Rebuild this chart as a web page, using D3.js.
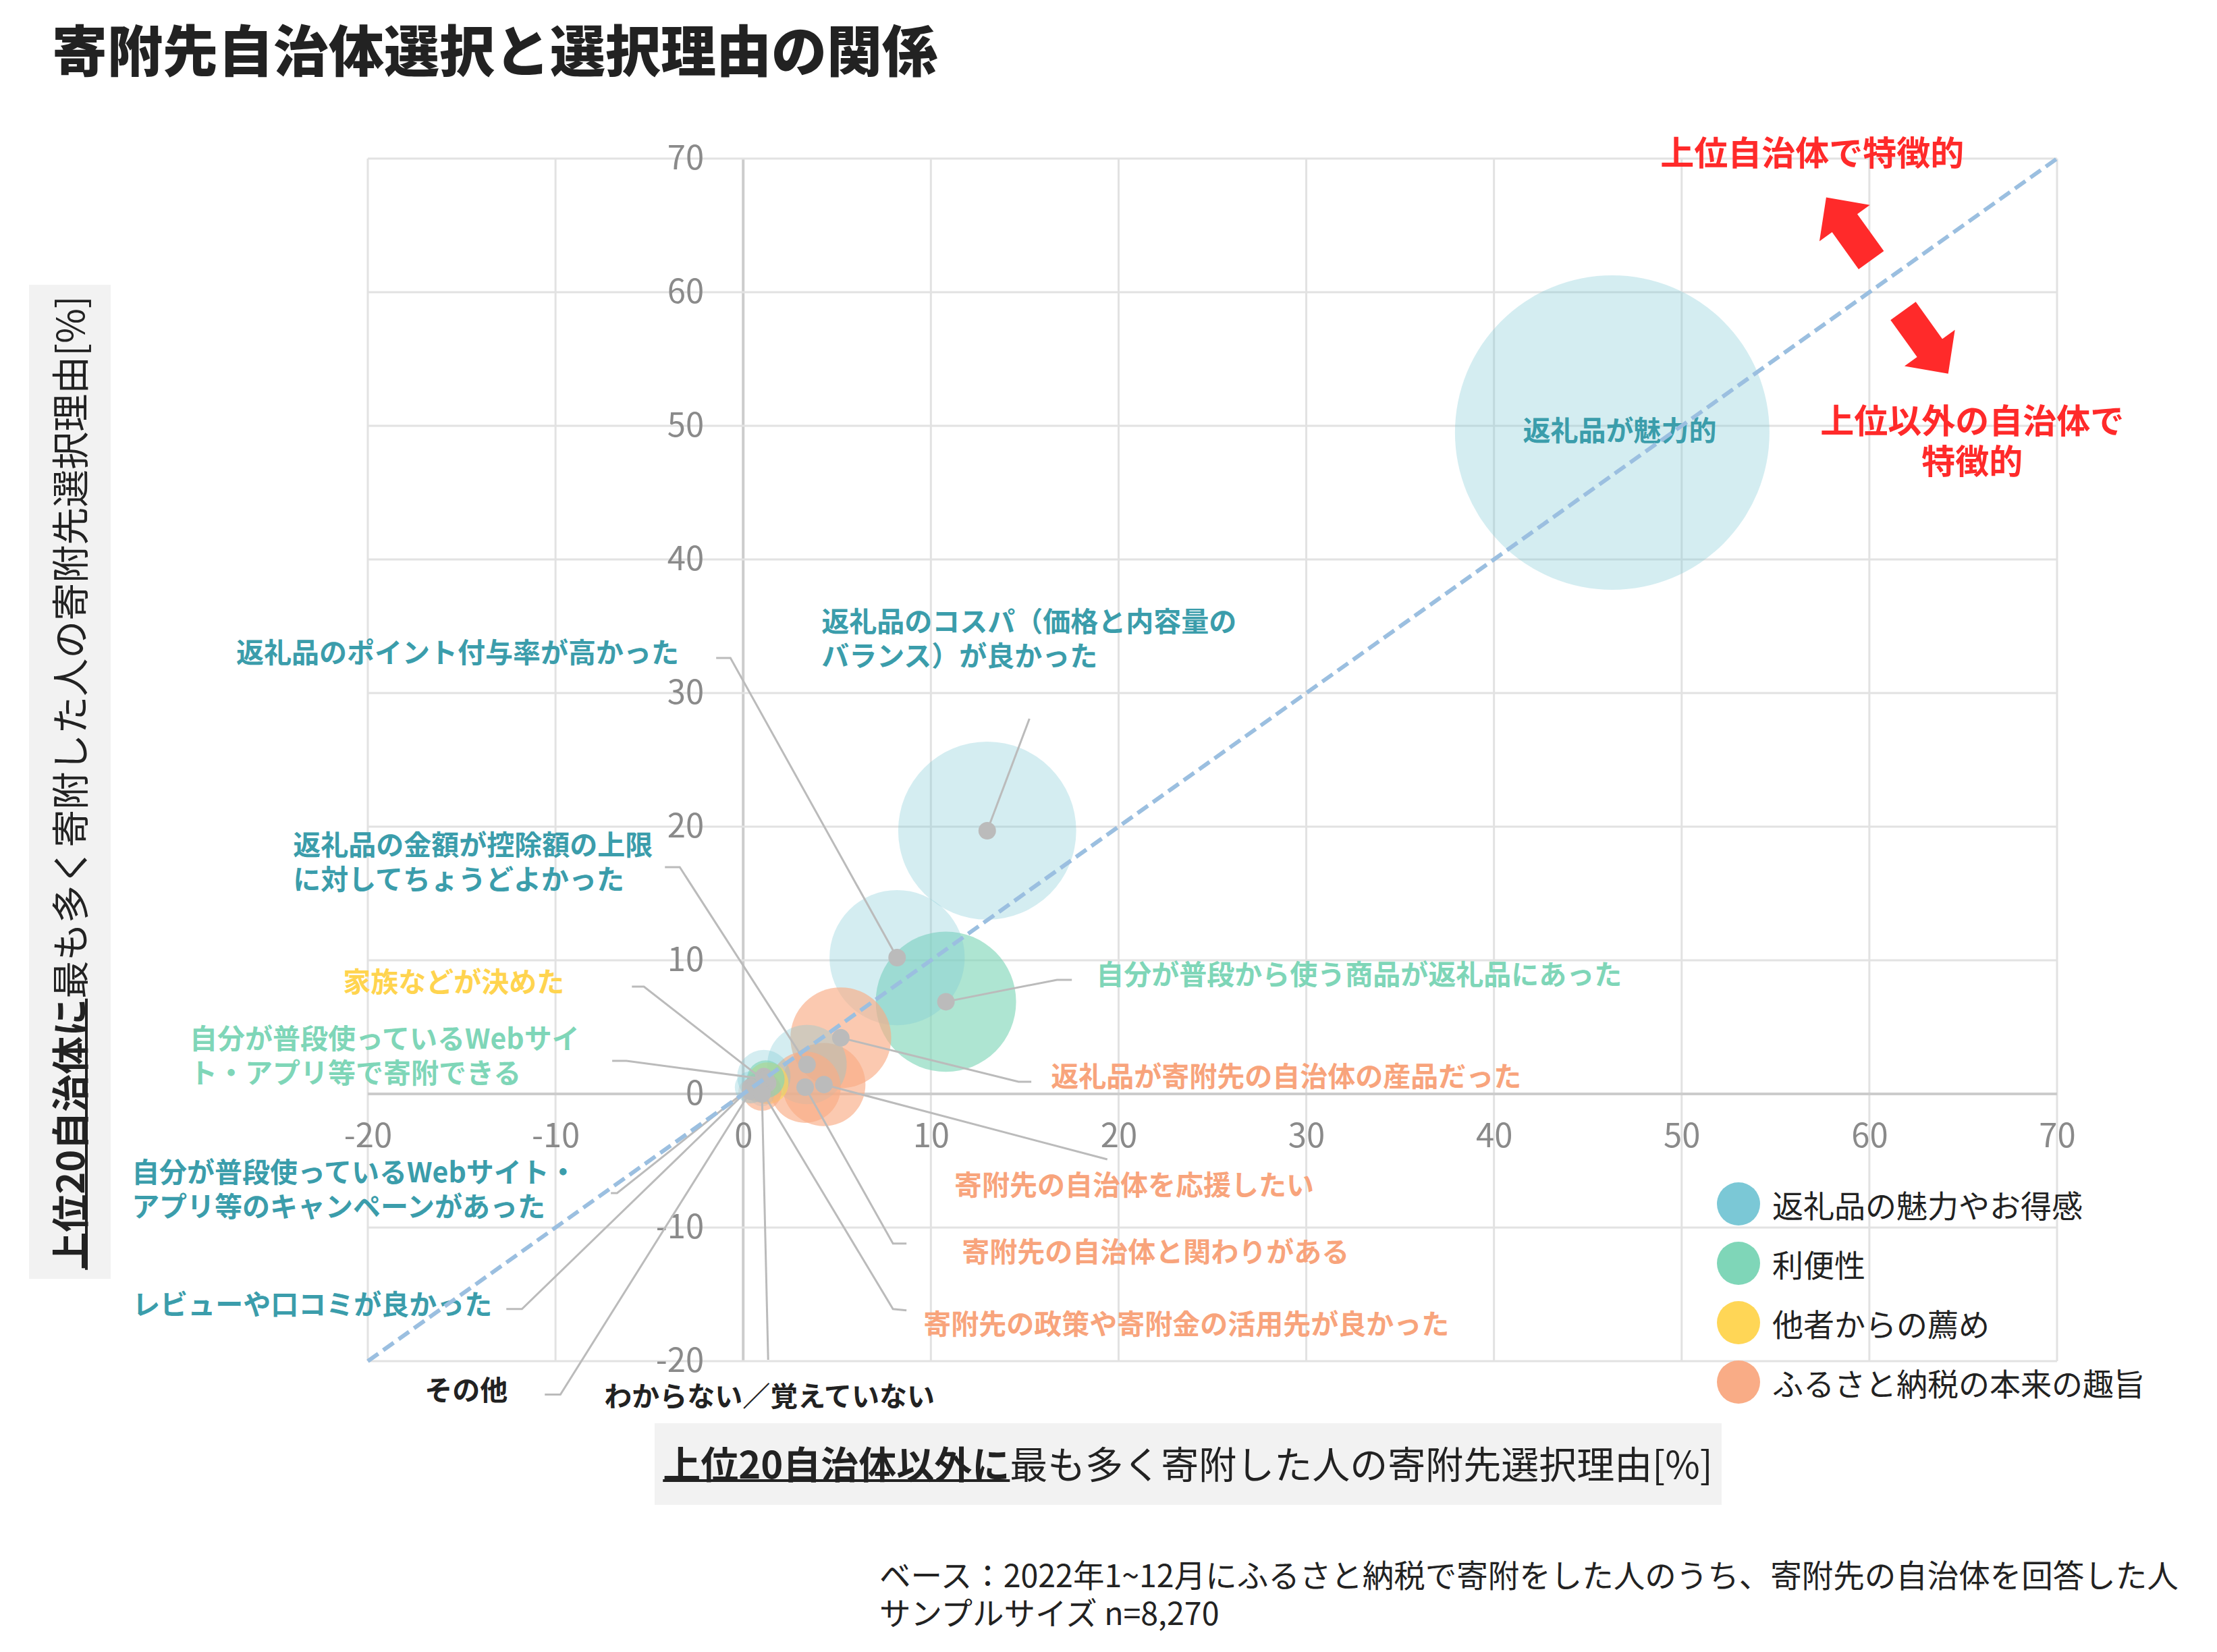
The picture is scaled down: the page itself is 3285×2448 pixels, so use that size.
<!DOCTYPE html>
<html lang="ja">
<head>
<meta charset="utf-8">
<script src="https://cdn.jsdelivr.net/npm/d3@7"></script>
<style>
    body { margin: 0; background: #fff; }
    text { font-family: "Noto Sans CJK JP", "Noto Sans", sans-serif; }
</style>
</head>
<body>
<div id="chart"></div>
<script>
// ---- data ----
const reasons = [
    "返礼品が魅力的",
    "返礼品のコスパ（価格と内容量のバランス）が良かった",
    "返礼品のポイント付与率が高かった",
    "自分が普段から使う商品が返礼品にあった",
    "返礼品が寄附先の自治体の産品だった",
    "返礼品の金額が控除額の上限に対してちょうどよかった",
    "寄附先の自治体を応援したい",
    "寄附先の自治体と関わりがある",
    "自分が普段使っているWebサイト・アプリ等のキャンペーンがあった",
    "家族などが決めた",
    "自分が普段使っているWebサイト・アプリ等で寄附できる",
    "寄附先の政策や寄附金の活用先が良かった",
    "レビューや口コミが良かった",
    "その他",
    "わからない／覚えていない"
];
const reasonGroup = [0, 0, 0, 1, 3, 0, 3, 3, 0, 2, 1, 3, 0, 4, 4];
// x: 上位20自治体以外に最も多く寄附した人 [%]
const otherShare = [46.3, 13.0, 8.2, 10.8, 5.2, 3.4, 4.3, 3.3, 1.1, 1.3, 1.2, 1.0, 0.4, 0.4, 1.0];
// y: 上位20自治体に最も多く寄附した人 [%]
const top20Share = [49.5, 19.7, 10.2, 6.9, 4.2, 2.2, 0.7, 0.5, 1.3, 0.8, 1.1, 0.2, 0.5, 0.2, 0.0];
// bubble size (overall share)
const bubbleSize = [48.7, 15.6, 9.0, 9.7, 5.0, 3.1, 3.4, 2.5, 1.4, 0.86, 0.7, 0.75, 0.5, 0.3, 0.3];

const groupNames = ["返礼品の魅力やお得感", "利便性", "他者からの薦め", "ふるさと納税の本来の趣旨"];
const axisTicks = [-20, -10, 0, 10, 20, 30, 40, 50, 60, 70];

const titleText = "寄附先自治体選択と選択理由の関係";
const xTitle = ["上位20自治体以外に", "最も多く寄附した人の寄附先選択理由[%]"];
const yTitle = ["上位20自治体に", "最も多く寄附した人の寄附先選択理由[%]"];
const noteLines = [
    "ベース：2022年1~12月にふるさと納税で寄附をした人のうち、寄附先の自治体を回答した人",
    "サンプルサイズ n=8,270"
];

// ---- styles ----
const groupColor = ["#7bc8d6", "#7fd6b8", "#ffd656", "#f9ac86", "#bbbbbb"];
const groupOpacity = [0.33, 0.63, 0.65, 0.65, 0.3];
const labelColor = ["#3b9dab", "#7fd6b8", "#ffd44f", "#f8a47c", "#222222"];

// ---- label layout (data units) ----
const labelLayout = [
    { x: 46.7, y: 49.8, anchor: "middle", lines: ["返礼品が魅力的"], leader: null },
    { x: 4.17, y: 35.5, anchor: "start", lines: ["返礼品のコスパ（価格と内容量の", "バランス）が良かった"], leader: [[15.25, 28.08]] },
    { x: -3.42, y: 33.2, anchor: "end", lines: ["返礼品のポイント付与率が高かった"], leader: [[-1.44, 32.63], [-0.68, 32.63]] },
    { x: 18.81, y: 9.09, anchor: "start", lines: ["自分が普段から使う商品が返礼品にあった"], leader: [[17.51, 8.54], [16.72, 8.54]] },
    { x: 16.4, y: 1.46, anchor: "start", lines: ["返礼品が寄附先の自治体の産品だった"], leader: [[15.35, 0.91], [14.67, 0.91]] },
    { x: -23.98, y: 18.79, anchor: "start", lines: ["返礼品の金額が控除額の上限", "に対してちょうどよかった"], leader: [[-4.17, 16.97], [-3.38, 16.97]] },
    { x: 11.25, y: -6.67, anchor: "start", lines: ["寄附先の自治体を応援したい"], leader: [[19.4, -4.9]] },
    { x: 11.65, y: -11.67, anchor: "start", lines: ["寄附先の自治体と関わりがある"], leader: [[8.7, -11.2], [7.98, -11.2]] },
    { x: -32.58, y: -5.71, anchor: "start", lines: ["自分が普段使っているWebサイト・", "アプリ等のキャンペーンがあった"], leader: [[-7.05, -7.42], [-6.72, -7.42]] },
    { x: -9.53, y: 8.54, anchor: "end", lines: ["家族などが決めた"], leader: [[-5.93, 8.03], [-5.29, 8.03]] },
    { x: -29.49, y: 4.29, anchor: "start", lines: ["自分が普段使っているWebサイ", "ト・アプリ等で寄附できる"], leader: [[-6.98, 2.47], [-6.22, 2.47]] },
    { x: 9.6, y: -17.07, anchor: "start", lines: ["寄附先の政策や寄附金の活用先が良かった"], leader: [[8.7, -16.2], [7.98, -16.1]] },
    { x: -32.54, y: -15.6, anchor: "start", lines: ["レビューや口コミが良かった"], leader: [[-12.62, -16.1], [-11.79, -16.1]] },
    { x: -16.97, y: -22.02, anchor: "start", lines: ["その他"], leader: [[-10.57, -22.5], [-9.74, -22.5]] },
    { x: -7.41, y: -22.47, anchor: "start", lines: ["わからない／覚えていない"], leader: [[1.33, -19.9]] }
];

const svg = {
    width: 3285,
    height: 2448,
    plot: { left: 545, right: 3048, top: 235, bottom: 2017 }
};

const data = reasons.map((r, i) => ({
    reason: r,
    group: reasonGroup[i],
    x: otherShare[i],
    y: top20Share[i],
    size: bubbleSize[i],
    layout: labelLayout[i]
}));

const xScale = d3.scaleLinear().domain([-20, 70]).range([svg.plot.left, svg.plot.right]);
const yScale = d3.scaleLinear().domain([-20, 70]).range([svg.plot.bottom, svg.plot.top]);
const rScale = d3.scaleSqrt().domain([0, 48.7]).range([0, 233]);

const chart = d3.select("#chart")
    .append("svg")
    .attr("width", svg.width)
    .attr("height", svg.height);

// title
chart.append("text")
    .attr("x", 77).attr("y", 70)
    .attr("dominant-baseline", "central")
    .attr("font-size", 82).attr("font-weight", 900)
    .attr("fill", "#222")
    .text(titleText);

// grid
const grid = chart.append("g").attr("class", "grid");
grid.selectAll("line.v").data(axisTicks).join("line")
    .attr("x1", d => xScale(d)).attr("x2", d => xScale(d))
    .attr("y1", svg.plot.top).attr("y2", svg.plot.bottom)
    .attr("stroke", d => d === 0 ? "#cccccc" : "#e2e2e2")
    .attr("stroke-width", d => d === 0 ? 4 : 3);
grid.selectAll("line.h").data(axisTicks).join("line")
    .attr("y1", d => yScale(d)).attr("y2", d => yScale(d))
    .attr("x1", svg.plot.left).attr("x2", svg.plot.right)
    .attr("stroke", d => d === 0 ? "#cccccc" : "#e2e2e2")
    .attr("stroke-width", d => d === 0 ? 4 : 3);

// axes (labels only, crossing at the origin)
const xAxis = d3.axisBottom(xScale).tickValues(axisTicks).tickFormat(d => String(d)).tickSize(0).tickPadding(44);
const yAxis = d3.axisLeft(yScale).tickValues(axisTicks).tickFormat(d => String(d)).tickSize(0).tickPadding(58);

chart.append("g").attr("class", "axis x")
    .attr("transform", `translate(0, ${yScale(0)})`)
    .call(xAxis);
chart.append("g").attr("class", "axis y")
    .attr("transform", `translate(${xScale(0)}, 0)`)
    .call(yAxis);
chart.selectAll(".axis .domain").remove();
chart.selectAll(".axis text")
    .attr("font-size", 49)
    .attr("fill", "#8a8a8a")
    .attr("font-family", "'Noto Sans CJK JP', sans-serif");

// bubbles
const sorted = data.slice().sort((a, b) => b.size - a.size);
chart.append("g").attr("class", "bubbles")
    .selectAll("circle")
    .data(sorted)
    .join("circle")
    .attr("cx", d => xScale(d.x))
    .attr("cy", d => yScale(d.y))
    .attr("r", d => rScale(d.size))
    .attr("fill", d => groupColor[d.group])
    .attr("fill-opacity", d => groupOpacity[d.group]);

// leader lines
chart.append("g").attr("class", "leaders")
    .selectAll("polyline")
    .data(data.filter(d => d.layout.leader))
    .join("polyline")
    .attr("points", d => d.layout.leader.concat([[d.x, d.y]])
        .map(p => `${xScale(p[0])},${yScale(p[1])}`).join(" "))
    .attr("fill", "none")
    .attr("stroke", "#bbbbbb")
    .attr("stroke-width", 3);

// centre dots
chart.append("g").attr("class", "dots")
    .selectAll("circle")
    .data(data.filter(d => d.layout.leader))
    .join("circle")
    .attr("cx", d => xScale(d.x))
    .attr("cy", d => yScale(d.y))
    .attr("r", 13)
    .attr("fill", "#bbbbbb");

// labels
const labels = chart.append("g").attr("class", "labels")
    .selectAll("text")
    .data(data)
    .join("text")
    .attr("x", d => xScale(d.layout.x))
    .attr("y", d => yScale(d.layout.y))
    .attr("text-anchor", d => d.layout.anchor)
    .attr("font-size", 41)
    .attr("font-weight", 700)
    .attr("fill", d => labelColor[d.group]);
labels.selectAll("tspan")
    .data(d => d.layout.lines.map((l, i) => ({ l, i, x: xScale(d.layout.x) })))
    .join("tspan")
    .attr("x", d => d.x)
    .attr("dy", d => d.i === 0 ? "0" : "51")
    .attr("dominant-baseline", "central")
    .text(d => d.l);

// diagonal y = x
chart.append("line")
    .attr("x1", xScale(-20)).attr("y1", yScale(-20))
    .attr("x2", xScale(70)).attr("y2", yScale(70))
    .attr("stroke", "#9bbfe0")
    .attr("stroke-width", 6)
    .attr("stroke-dasharray", "19 9");

// red annotations
function arrow(tail, tip) {
    const x0 = xScale(tail[0]), y0 = yScale(tail[1]);
    const x1 = xScale(tip[0]), y1 = yScale(tip[1]);
    const len = Math.hypot(x1 - x0, y1 - y0);
    const ux = (x1 - x0) / len, uy = (y1 - y0) / len;
    const nx = -uy, ny = ux;
    const sw = 23, hw = 46, hl = 47;
    const bx = x1 - ux * hl, by = y1 - uy * hl;
    return [
        [x0 + nx * sw, y0 + ny * sw], [bx + nx * sw, by + ny * sw], [bx + nx * hw, by + ny * hw],
        [x1, y1],
        [bx - nx * hw, by - ny * hw], [bx - nx * sw, by - ny * sw], [x0 - nx * sw, y0 - ny * sw]
    ].map(p => p.join(",")).join(" ");
}
const notes = chart.append("g").attr("class", "notes");
notes.append("polygon").attr("points", arrow([60.1, 62.4], [57.7, 67.1])).attr("fill", "#ff2a2a");
notes.append("polygon").attr("points", arrow([61.8, 58.6], [64.2, 53.9])).attr("fill", "#ff2a2a");
notes.append("text")
    .attr("x", xScale(56.96)).attr("y", yScale(70.6))
    .attr("text-anchor", "middle").attr("dominant-baseline", "central")
    .attr("font-size", 50).attr("font-weight", 700).attr("fill", "#ff2a2a")
    .text("上位自治体で特徴的");
notes.append("text")
    .attr("x", xScale(65.48)).attr("y", yScale(50.56))
    .attr("text-anchor", "middle").attr("dominant-baseline", "central")
    .attr("font-size", 50).attr("font-weight", 700).attr("fill", "#ff2a2a")
    .text("上位以外の自治体で")
    .append("tspan")
    .attr("x", xScale(65.48)).attr("dy", 60)
    .text("特徴的");

// legend
const legend = chart.append("g").attr("class", "legend")
    .attr("transform", "translate(2576, 1784)")
    .selectAll("g")
    .data(groupNames)
    .join("g")
    .attr("transform", (d, i) => `translate(0, ${i * 88})`);
legend.append("circle").attr("r", 32).attr("fill", (d, i) => groupColor[i]);
legend.append("text")
    .attr("x", 50).attr("dominant-baseline", "central")
    .attr("font-size", 46).attr("fill", "#222")
    .text(d => d);

// axis titles with bold, underlined lead
function axisTitle(g, parts) {
    const bold = g.append("text").attr("font-size", 56).attr("font-weight", 700)
        .attr("fill", "#222").attr("dominant-baseline", "central").text(parts[0]);
    const rest = g.append("text").attr("font-size", 56)
        .attr("fill", "#222").attr("dominant-baseline", "central").text(parts[1]);
    const w0 = bold.node().getComputedTextLength();
    const w1 = rest.node().getComputedTextLength();
    const start = -(w0 + w1) / 2;
    bold.attr("x", start);
    rest.attr("x", start + w0);
    g.append("line").attr("x1", start).attr("x2", start + w0)
        .attr("y1", 28).attr("y2", 28)
        .attr("stroke", "#222").attr("stroke-width", 4);
}
chart.append("rect").attr("x", 970).attr("y", 2109).attr("width", 1581).attr("height", 121).attr("fill", "#f2f2f2");
axisTitle(chart.append("g").attr("transform", "translate(1760, 2166)"), xTitle);

chart.append("rect").attr("x", 43).attr("y", 422).attr("width", 121).attr("height", 1473).attr("fill", "#f2f2f2");
axisTitle(chart.append("g").attr("transform", "translate(100, 1160) rotate(-90)"), yTitle);

// footnote
chart.append("text")
    .attr("class", "footnote")
    .attr("x", 1303)
    .attr("y", 2331)
    .attr("dominant-baseline", "central")
    .attr("font-size", 46.5)
    .attr("fill", "#222")
    .selectAll("tspan")
    .data(noteLines)
    .join("tspan")
    .attr("x", 1303)
    .attr("dy", (d, i) => i === 0 ? 0 : 56)
    .text(d => d);
</script>
</body>
</html>
